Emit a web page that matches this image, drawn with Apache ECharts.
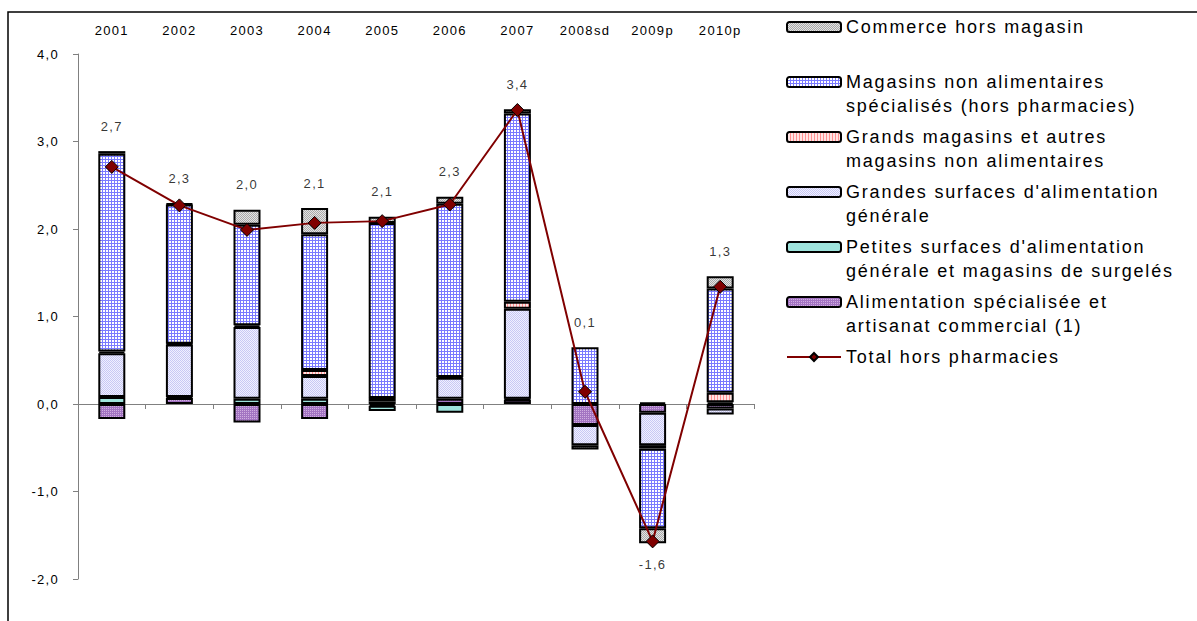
<!DOCTYPE html>
<html>
<head>
<meta charset="utf-8">
<script src="https://cdn.jsdelivr.net/npm/echarts@6/dist/echarts.min.js"></script>
<style>
  html, body { margin: 0; padding: 0; background: #ffffff; }
  #chart { width: 1197px; height: 621px; }
  /* wide tracking of the labels */
  #chart svg text { letter-spacing: 0.1em; }
</style>
</head>
<body>
<div id="chart"></div>
<script>
// Contributions to the yearly change, by type of retail outlet (points)
const categories = ['2001', '2002', '2003', '2004', '2005', '2006', '2007', '2008sd', '2009p', '2010p'];

const alimentationSpecialisee = [-0.17, 0.07, -0.21, -0.17, -0.02, 0.06, 0.05, -0.24, -0.10, -0.05];
const petitesSurfaces        = [0.08, 0.01, 0.06, 0.06, -0.06, -0.10, 0.01, null, 0.02, 0.02];
const grandesSurfaces        = [0.50, 0.60, 0.82, 0.26, 0.03, 0.24, 1.03, -0.23, -0.37, -0.07];
const grandsMagasins         = [0.02, 0.01, 0.02, 0.07, 0.04, 0.01, 0.08, null, -0.04, 0.11];
const magasinsNonAlim        = [2.26, 1.59, 1.15, 1.55, 2.00, 1.98, 2.15, 0.65, -0.91, 1.19];
const commerceHorsMagasin    = [0.03, 0.01, 0.17, 0.30, 0.07, 0.08, 0.05, -0.05, -0.17, 0.14];
const totalHorsPharmacies    = [2.71, 2.27, 1.99, 2.07, 2.09, 2.28, 3.36, 0.14, -1.57, 1.34];

const seriesNames = {
  alim: 'Alimentation spécialisée et artisanat commercial (1)',
  petites: 'Petites surfaces d\'alimentation générale et magasins de surgelés',
  grandes: 'Grandes surfaces d\'alimentation générale',
  grandsMag: 'Grands magasins et autres magasins non alimentaires',
  nonAlim: 'Magasins non alimentaires spécialisés (hors pharmacies)',
  horsMag: 'Commerce hors magasin',
  total: 'Total hors pharmacies'
};

// Wrapped legend text; the leading blank line keeps the first line level with the swatch
const legendText = {};
legendText[seriesNames.horsMag] = ' \nCommerce hors magasin\n ';
legendText[seriesNames.nonAlim] = ' \nMagasins non alimentaires\nspécialisés (hors pharmacies)';
legendText[seriesNames.grandsMag] = ' \nGrands magasins et autres\nmagasins non alimentaires';
legendText[seriesNames.grandes] = ' \nGrandes surfaces d\'alimentation\ngénérale';
legendText[seriesNames.petites] = ' \nPetites surfaces d\'alimentation\ngénérale et magasins de surgelés';
legendText[seriesNames.alim] = ' \nAlimentation spécialisée et\nartisanat commercial (1)';
legendText[seriesNames.total] = ' \nTotal hors pharmacies\n ';

const FONT = 'Liberation Sans, Arial, sans-serif';

function fmt(v) {
  return v.toFixed(1).replace('.', ',');
}

// Small repeating fills
function pattern(w, h, bg, fg, cells) {
  const c = document.createElement('canvas');
  c.width = w; c.height = h;
  const ctx = c.getContext('2d');
  ctx.fillStyle = bg;
  ctx.fillRect(0, 0, w, h);
  ctx.fillStyle = fg;
  cells.forEach(function (r) { ctx.fillRect(r[0], r[1], r[2] || 1, r[3] || 1); });
  return { image: c, repeat: 'repeat' };
}

const fills = {
  horsMag: pattern(2, 2, '#e4e4e4', '#aaaaaa', [[0, 0], [1, 1]]),
  nonAlim: pattern(3, 3, '#ffffff', '#7a7aff', [[0, 0, 3, 1], [0, 0, 1, 3]]),
  grandsMag: pattern(3, 1, '#ffe4e4', '#ff9090', [[0, 0]]),
  grandes: pattern(2, 2, '#f0f0ff', '#c8c8f4', [[0, 0], [1, 1]]),
  petites: '#9ee3dc',
  alim: pattern(2, 2, '#a374c2', '#d0aee0', [[0, 0]])
};

function barSeries(key, data) {
  return {
    name: seriesNames[key],
    type: 'bar',
    stack: 'contrib',
    barWidth: 27,
    data: data,
    itemStyle: { color: fills[key], borderColor: '#000000', borderWidth: 2 },
    emphasis: { disabled: true }
  };
}

// Position of the total labels: above the positive stack, or below the negative one
const labelAnchor = categories.map(function (c, i) {
  let pos = 0, neg = 0;
  [alimentationSpecialisee, petitesSurfaces, grandesSurfaces, grandsMagasins, magasinsNonAlim, commerceHorsMagasin]
    .forEach(function (arr) {
      const v = arr[i] || 0;
      if (v >= 0) pos += v; else neg += v;
    });
  return totalHorsPharmacies[i] >= 0 ? pos : neg;
});

const chart = echarts.init(document.getElementById('chart'), null, { renderer: 'svg' });

chart.setOption({
  animation: false,
  backgroundColor: '#ffffff',
  textStyle: { fontFamily: FONT },
  grid: { left: 78, right: 443, top: 54, bottom: 42 },
  graphic: [{
    type: 'rect',
    silent: true,
    shape: { x: 8, y: 12, width: 1300, height: 800 },
    style: { fill: 'none', stroke: '#000000', lineWidth: 1.5 }
  }],
  legend: {
    orient: 'vertical',
    left: 786,
    top: -9,
    padding: 0,
    itemWidth: 54,
    itemHeight: 10,
    itemGap: -17,
    selectedMode: false,
    data: [seriesNames.horsMag, seriesNames.nonAlim, seriesNames.grandsMag, seriesNames.grandes,
           seriesNames.petites, seriesNames.alim, seriesNames.total],
    formatter: function (name) { return legendText[name]; },
    textStyle: {
      fontFamily: FONT,
      fontSize: 18,
      lineHeight: 24,
      color: '#000000'
    }
  },
  xAxis: [{
    type: 'category',
    data: categories,
    position: 'bottom',
    axisLine: { onZero: true, lineStyle: { color: '#808080', width: 1 } },
    axisTick: { show: true, length: 5, lineStyle: { color: '#808080' } },
    axisLabel: { show: false }
  }, {
    type: 'category',
    data: categories,
    position: 'top',
    axisLine: { show: false },
    axisTick: { show: false },
    axisLabel: { show: true, margin: 17, fontSize: 13, color: '#000000', fontFamily: FONT }
  }],
  yAxis: {
    type: 'value',
    min: -2,
    max: 4,
    interval: 1,
    axisLine: { show: true, lineStyle: { color: '#808080', width: 1 } },
    axisTick: { show: true, length: 5, lineStyle: { color: '#808080' } },
    splitLine: { show: false },
    axisLabel: { margin: 19, fontSize: 13, color: '#000000', fontFamily: FONT, formatter: fmt }
  },
  series: [
    barSeries('alim', alimentationSpecialisee),
    barSeries('petites', petitesSurfaces),
    barSeries('grandes', grandesSurfaces),
    barSeries('grandsMag', grandsMagasins),
    barSeries('nonAlim', magasinsNonAlim),
    barSeries('horsMag', commerceHorsMagasin),
    {
      name: seriesNames.total,
      type: 'line',
      data: totalHorsPharmacies,
      z: 5,
      symbol: 'diamond',
      symbolSize: 13,
      lineStyle: { color: '#800000', width: 2 },
      itemStyle: { color: '#800000', borderColor: '#000000', borderWidth: 1 },
      emphasis: { disabled: true }
    },
    {
      name: 'labels',
      type: 'scatter',
      silent: true,
      z: 6,
      symbolSize: 1,
      itemStyle: { color: 'rgba(0,0,0,0)' },
      data: labelAnchor.map(function (v, i) {
        const up = totalHorsPharmacies[i] >= 0;
        return { value: v, label: { position: up ? 'top' : 'bottom', distance: up ? 18 : 14 } };
      }),
      label: {
        show: true,
        fontSize: 13,
        color: '#000000',
        fontFamily: FONT,
        formatter: function (p) { return fmt(totalHorsPharmacies[p.dataIndex]); }
      }
    }
  ]
});
</script>
</body>
</html>
